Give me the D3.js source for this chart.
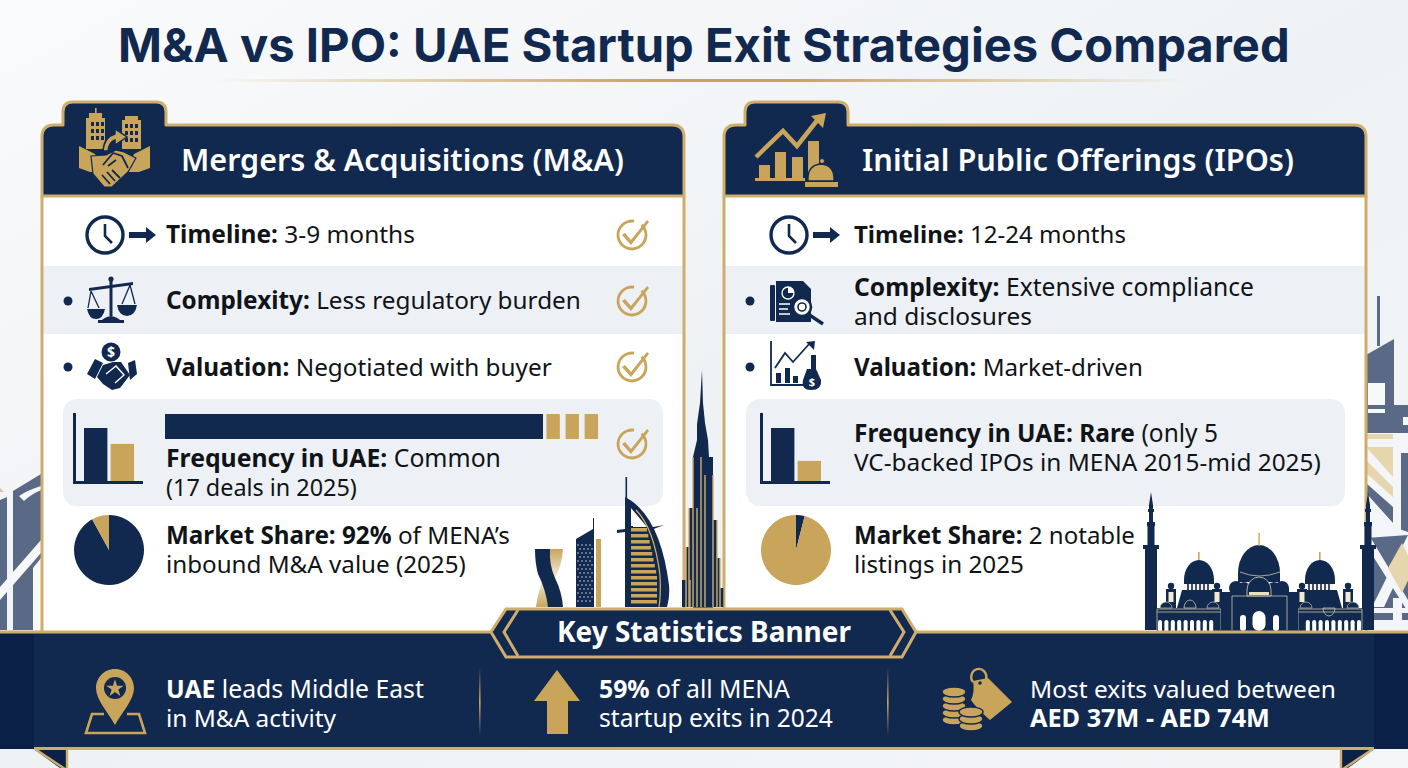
<!DOCTYPE html>
<html><head><meta charset="utf-8">
<script src="https://cdn.jsdelivr.net/npm/d3@7"></script>
<style>html,body{margin:0;padding:0;background:#f4f6f8;overflow:hidden}svg{display:block}text{white-space:pre}</style>
</head><body><svg id="c" width="1408" height="768" viewBox="0 0 1408 768"></svg>
<script>
// ---------- content ----------
const chartTitle = "M&A vs IPO: UAE Startup Exit Strategies Compared";
const headers = ["Mergers & Acquisitions (M&A)", "Initial Public Offerings (IPOs)"];
const bannerTitle = "Key Statistics Banner";
const maLines = [
  [["Timeline:",1],[" 3-9 months",0]],
  [["Complexity:",1],[" Less regulatory burden",0]],
  [["Valuation:",1],[" Negotiated with buyer",0]],
  [["Frequency in UAE:",1],[" Common",0]],
  [["(17 deals in 2025)",0]],
  [["Market Share: 92%",1],[" of MENA\u2019s",0]],
  [["inbound M&A value (2025)",0]]
];
const ipoLines = [
  [["Timeline:",1],[" 12-24 months",0]],
  [["Complexity:",1],[" Extensive compliance",0]],
  [["and disclosures",0]],
  [["Valuation:",1],[" Market-driven",0]],
  [["Frequency in UAE: Rare",1],[" (only 5",0]],
  [["VC-backed IPOs in MENA 2015-mid 2025)",0]],
  [["Market Share:",1],[" 2 notable",0]],
  [["listings in 2025",0]]
];
const statLines = [
  [["UAE",1],[" leads Middle East",0]],
  [["in M&A activity",0]],
  [["59%",1],[" of all MENA",0]],
  [["startup exits in 2024",0]],
  [["Most exits valued between",0]],
  [["AED 37M - AED 74M",1]]
];
// ---------- values ----------
const barCategories = ["M&A", "IPO"];
const maMiniBars = [100, 70];
const ipoMiniBars = [100, 38];
const maShare = [92, 8];
const ipoShare = [4, 96];
const freqMain = 87.3;
const freqBlocks = ["a", "b", "c"];

// ---------- palette / layout ----------
const NAVY="#12294f", GOLD="#c9a55c", GOLDL="#cfae6c", INK="#101418", STRIPE="#edf1f6", SLATE="#5a6a86", SAND="#e6d6ae", PALE="#f4f5f8";
const svg=d3.select("#c");
const defs=svg.append("defs");
const bg=defs.append("linearGradient").attr("id","bg").attr("x1",0).attr("y1",0).attr("x2",1).attr("y2",1);
bg.append("stop").attr("offset",0).attr("stop-color","#f9fafb");
bg.append("stop").attr("offset",.5).attr("stop-color","#eff2f5");
bg.append("stop").attr("offset",1).attr("stop-color","#f3f5f7");
const rule=defs.append("linearGradient").attr("id","rule");
[[0,0],[.45,1],[.6,1],[1,0]].forEach(([o,a])=>rule.append("stop").attr("offset",o).attr("stop-color",GOLD).attr("stop-opacity",a));
const vr=defs.append("linearGradient").attr("id","vr").attr("x1",0).attr("x2",0).attr("y1",0).attr("y2",1);
[[0,0],[.5,1],[1,0]].forEach(([o,a])=>vr.append("stop").attr("offset",o).attr("stop-color",GOLD).attr("stop-opacity",a));
const tw=defs.append("linearGradient").attr("id","tw").attr("x1",0).attr("x2",0).attr("y1",0).attr("y2",1);
[[0,GOLD],[.5,"#f3eee0"],[1,GOLD]].forEach(([o,c])=>tw.append("stop").attr("offset",o).attr("stop-color",c));

const P=(g,d,fill,extra={})=>{const p=g.append("path").attr("d",d).attr("fill",fill);for(const k in extra)p.attr(k,extra[k]);return p;};
const R=(g,x,y,w,h,fill,rx=0)=>g.append("rect").attr("x",x).attr("y",y).attr("width",w).attr("height",h).attr("fill",fill).attr("rx",rx);
const C=(g,x,y,r,fill,extra={})=>{const c=g.append("circle").attr("cx",x).attr("cy",y).attr("r",r).attr("fill",fill);for(const k in extra)c.attr(k,extra[k]);return c;};

R(svg,0,0,1408,768,"url(#bg)");

// rich text fitted to a measured width: one text element per run
function rich(g,segs,x,y,x2,opt={}){
  const base=opt.size||25;
  const ts=segs.map(([s,b])=>g.append("text").attr("y",y).attr("fill",opt.fill||INK)
    .attr("font-family",opt.font||"'Noto Sans',sans-serif").attr("font-size",base)
    .attr("font-weight",b?(opt.bold||700):(opt.reg||400)).text(s));
  const lens=ts.map(t=>t.node().getComputedTextLength());
  const k=(x2-x)/d3.sum(lens);
  let cx=x;
  ts.forEach((t,i)=>{t.attr("x",cx).attr("font-size",base*k);cx+=lens[i]*k;});
}

// ---------- background decor ----------
const decor=svg.append("g");
// left
P(decor,"M0 500L7 497V630H0Z",SLATE);
P(decor,"M13 491L41 474V630H13Z",SLATE);
P(decor,"M0 587L41 540V553L0 600Z","#f5f7f9");
P(decor,"M33 630V568L41 558V630Z","#f7f8fa");
P(decor,"M19 496Q28 490 41 486V490Q30 495 24 501Z","#f7f8fa");
P(decor,"M0 488L4 492H0Z",GOLD,{opacity:.6});
// right
const rd=decor.append("g");
R(rd,1377,296,3,50,SLATE);
P(rd,"M1366 355L1394 339V405H1408V433H1366Z",SLATE);
R(rd,1368,383,17,22,"#f7f8fa");
R(rd,1368,409,17,4,"#f7f8fa");
R(rd,1403,417,5,8,"#f7f8fa");
R(rd,1366,433,42,100,PALE);
R(rd,1366,434,27,5,SAND);
P(rd,"M1366 447H1393V477Z",SAND);
P(rd,"M1366 460L1393 487V497L1366 473Z",SAND);
P(rd,"M1366 483L1393 507V523L1366 493Z",SLATE);
R(rd,1401,453,7,80,SLATE);
P(rd,"M1366 530H1408V630H1366Z",SLATE);
P(rd,"M1366 524L1393 527L1408 532V535L1366 538Z",PALE);
P(rd,"M1366 530L1408 600V612L1366 545Z",PALE);
P(rd,"M1408 535L1372 607H1384L1408 556Z",PALE);
P(rd,"M1402 543L1414 568L1402 593L1388 568Z",SAND);
R(rd,1366,608,42,5,PALE);
R(rd,1366,620,42,10,PALE);
R(rd,1393,598,9,32,PALE);

// ---------- title ----------
rich(svg,[[chartTitle,1]],118,62,1290,{fill:NAVY,font:"Inter,sans-serif",size:45,bold:700});
R(svg,215,79,975,3,"url(#rule)");

// ---------- cards ----------
function card(x0,tabX,tabW){
  const g=svg.append("g");
  const x1=x0+642, top=125, tabT=102, hb=196, bot=632;
  R(g,x0,hb,642,bot-hb,"#fff");
  R(g,x0,266,642,68,STRIPE);
  const outline=`M${x0} ${hb}V${top+12}Q${x0} ${top} ${x0+12} ${top}H${tabX}V${tabT+10}Q${tabX} ${tabT} ${tabX+10} ${tabT}H${tabX+tabW-10}Q${tabX+tabW} ${tabT} ${tabX+tabW} ${tabT+10}V${top}H${x1-12}Q${x1} ${top} ${x1} ${top+12}V${hb}Z`;
  P(g,outline,NAVY,{stroke:GOLDL,"stroke-width":3,"stroke-linejoin":"round"});
  R(g,x0-1.5,196,3,bot-196,GOLDL);
  R(g,x1-1.5,196,3,bot-196,GOLDL);
  return g;
}
const cardA=card(42,63,103), cardB=card(724,745,103);
rich(cardA,[[headers[0],1]],181,171,624,{fill:"#fff",bold:600});
rich(cardB,[[headers[1],1]],862,171,1294,{fill:"#fff",bold:600});

// panels
R(cardA,63,399,600,107,STRIPE,14);
R(cardB,746,399,599,107,STRIPE,14);

// text rows
const maPos=[[243,415],[309,581],[376,552],[467,501],[496,357],[544,510],[573,466]];
maLines.forEach((l,i)=>rich(cardA,l,166,maPos[i][0],maPos[i][1]));
const ipoPos=[[243,1126],[296,1254],[325,1032],[376,1143],[442,1218],[471,1321],[544,1135],[573,1024]];
ipoLines.forEach((l,i)=>rich(cardB,l,854,ipoPos[i][0],ipoPos[i][1]));

// check marks
function check(cx,cy){
  const g=svg.append("g").attr("transform",`translate(${cx},${cy})`);
  g.append("path").attr("d",d3.arc()({innerRadius:12.6,outerRadius:15.4,startAngle:.75,endAngle:Math.PI*2+.15})).attr("fill",GOLD);
  P(g,"M-7 -2L-1 5L15 -15L17 -13L-1 10L-10 0Z",GOLD);
}
[[632,235],[632,301],[632,367],[632,444]].forEach(a=>check(...a));

// bullets
[[68,301],[68,367],[750,301],[750,367]].forEach(([x,y])=>C(svg,x,y,4.5,NAVY));

// clock + arrow
function clock(cx,ay){
  const g=svg.append("g");
  C(g,cx,ay,18,"#fff",{stroke:NAVY,"stroke-width":3.4});
  P(g,`M${cx} ${ay-11}V${ay+1}L${cx+7} ${ay+8}`,"none",{stroke:NAVY,"stroke-width":2.6});
  R(g,cx+24,ay-3,19,6,NAVY);
  P(g,`M${cx+41} ${ay-8}L${cx+51} ${ay}L${cx+41} ${ay+8}Z`,NAVY);
}
clock(105,235); clock(789,235);

// scale icon
(function(){
  const g=svg.append("g");
  C(g,111,279,2.6,NAVY);
  R(g,109.5,280,3,36,NAVY);
  P(g,"M89 288L133 282L133 285L89 291Z",NAVY);
  P(g,"M91 291L88 308M91 291L99 308M130 285L122 304M130 285L135 304","none",{stroke:NAVY,"stroke-width":1.3});
  P(g,"M87 309H105Q103 319 96 319Q89 319 87 309Z",NAVY);
  P(g,"M117 305H137Q135 316 127 316Q119 316 117 305Z",NAVY);
  P(g,"M100 322Q104 317 111 316Q118 317 122 322Z",NAVY);
  R(g,98,320,26,3,NAVY);
})();

// small handshake + coin
(function(){
  const g=svg.append("g");
  C(g,111,352,9.5,NAVY);
  g.append("text").attr("x",111).attr("y",357).attr("text-anchor","middle").attr("fill","#fff").attr("font-family","'Noto Sans'").attr("font-weight",700).attr("font-size",14).text("$");
  P(g,"M87 374L95 359L103 363L95 379Z",NAVY);
  P(g,"M128 363L135 360L137 374L130 380Z",NAVY);
  P(g,"M97 377L103 365L113 362L121 362L130 375L120 388L112 390L103 384Z",NAVY);
  P(g,"M106 374L116 366L124 375L115 383","none",{stroke:"#fff","stroke-width":1.4});
})();

// document + magnifier
(function(){
  const g=svg.append("g");
  R(g,770,285,5,36,NAVY,1);
  P(g,"M776 281H803L811 289V322H776Z",NAVY);
  C(g,788,293,6,"none",{stroke:"#fff","stroke-width":1.3});
  P(g,"M788 293V287A6 6 0 0 1 794 293Z","#fff");
  P(g,"M779 304H790M779 309H788M779 314H790","none",{stroke:"#fff","stroke-width":1.4});
  C(g,802,307,9,"#fff",{stroke:NAVY,"stroke-width":2.6});
  C(g,802,307,4,"none",{stroke:NAVY,"stroke-width":1.6});
  P(g,"M808 314L823 324","none",{stroke:NAVY,"stroke-width":3.4});
})();

// valuation chart icon
(function(){
  const g=svg.append("g");
  P(g,"M771 341V385H805","none",{stroke:NAVY,"stroke-width":1.8});
  P(g,"M775 368L785 353L793 362L810 343","none",{stroke:NAVY,"stroke-width":1.8});
  P(g,"M806 342L815 341L814 350Z",NAVY);
  [[776,373,5,10],[785,368,5,15],[793,376,5,7],[811,355,5,14]].forEach(a=>R(g,a[0],a[1],a[2],a[3],NAVY));
  P(g,"M807 369H816L821 380Q822 390 811 390Q801 390 803 380Z",NAVY);
  g.append("text").attr("x",812).attr("y",386).attr("text-anchor","middle").attr("fill","#fff").attr("font-family","'Noto Sans'").attr("font-weight",700).attr("font-size",11).text("$");
})();

// ---------- mini bar charts (data driven) ----------
function miniBars(vals,x0,x1,yTop,yBase,barLeft,barRight){
  const g=svg.append("g");
  const x=d3.scaleBand().domain(barCategories).range([barLeft,barRight]).paddingInner(.12);
  const y=d3.scaleLinear().domain([0,100]).range([yBase,yTop+15]);
  g.selectAll("rect.b").data(vals).join("rect").attr("class","b")
    .attr("x",(d,i)=>x(barCategories[i])).attr("width",x.bandwidth())
    .attr("y",d=>y(d)).attr("height",d=>yBase-y(d)).attr("fill",(d,i)=>i?GOLD:NAVY);
  R(g,x0,yTop,3,yBase-yTop+3,NAVY);
  R(g,x0,yBase,x1-x0,3,NAVY);
}
miniBars(maMiniBars,73,143,413,481,84,134);
miniBars(ipoMiniBars,760,830,413,481,771,821);

// frequency bar (data driven)
(function(){
  const x=d3.scaleLinear().domain([0,100]).range([165,598]);
  const g=svg.append("g");
  g.append("rect").attr("x",x(0)).attr("y",414).attr("width",x(freqMain)-x(0)).attr("height",25).attr("fill",NAVY);
  const b=d3.scaleBand().domain(freqBlocks).range([x(freqMain+.8),x(100)]).paddingInner(.3);
  g.selectAll("rect.fb").data(freqBlocks).join("rect").attr("class","fb").attr("x",d=>b(d)).attr("y",414).attr("width",b.bandwidth()).attr("height",25).attr("fill",GOLD);
})();

// pies (data driven)
function pie(vals,cx,cy,colors){
  const g=svg.append("g").attr("transform",`translate(${cx},${cy})`);
  const arcs=d3.pie().sort(null)(vals);
  const a=d3.arc().innerRadius(0).outerRadius(35);
  g.selectAll("path").data(arcs).join("path").attr("d",a).attr("fill",(d,i)=>colors[i]);
}
pie(maShare,109,550,[NAVY,GOLD]);
pie(ipoShare,796,550,[NAVY,GOLD]);

// ---------- skyline: Dubai ----------
(function(){
  const g=svg.append("g");
  // twisted tower
  P(g,"M549 549H563Q562 565 555 579Q549 592 548 607H536Q538 590 545 575Q550 565 549 549Z","url(#tw)");
  P(g,"M535 549H550Q549 565 555 578Q562 592 563 607H548Q546 590 538 574Q535 563 535 549Z",NAVY);
  // perforated tower
  P(g,"M576 539L593 529V518H594V607H576Z",NAVY);
  R(g,596,539,5,68,GOLD);
  const dots=g.append("g").attr("fill","#c9d2df");
  d3.range(545,604,4).forEach((yy,j)=>d3.range(578+(j%2)*2,593,4).forEach(xx=>dots.append("circle").attr("cx",xx).attr("cy",yy).attr("r",.8)));
  // Burj Al Arab
  R(g,625.5,477,1.6,25,NAVY);
  P(g,"M625 497Q660 515 669 585Q670 597 667 607H625Z",NAVY);
  P(g,"M631 508L647 527H631Z","#fff");
  P(g,"M617 530L625 529V526H633V531L617 533Z",NAVY);
  P(g,"M648 528L664 525L651 530Z",NAVY);
  d3.range(528,606,6).forEach((yy,i)=>R(g,631,yy,Math.min(26,16+i*1.3),3.5,GOLD));
  P(g,"M636 510Q654 528 660 575Q661 595 659 607","none",{stroke:GOLDL,"stroke-width":1.2});
  // Burj Khalifa
  P(g,"M702 370L703 403L705 423L708 440L709 457H713V630H693V457L697 440V424L700 403Z",NAVY);
  [[682,580,7],[686,547,7],[689,508,8],[693,457,8],[705,475,8],[709,520,8],[713,558,7],[717,588,7]].forEach(([x,y,w])=>R(g,x,y,w,607-y,NAVY));
  [[686,547],[689,508],[693,457],[701,457],[705,475],[713,475],[717,520],[720,558],[724,588],[690,580],[697,508]].forEach(([x,y])=>R(g,x-.7,y,1.4,607-y,GOLDL));
})();

// ---------- skyline: mosque ----------
(function(){
  const g=svg.append("g");
  function minaret(c){
    P(g,`M${c} 492L${c+2} 505V509H${c+3}V512H${c+2}V522H${c+4}V526H${c+3.5}V545H${c+8}V549H${c+6}V630H${c-6}V549H${c-8}V545H${c-3.5}V526H${c-4}V522H${c-2}V512H${c-3}V509H${c-2}V505Z`,NAVY);
  }
  minaret(1151); minaret(1368);
  const line=(d)=>P(g,d,"none",{stroke:"#c9c3a8","stroke-width":.8});
  R(g,1157,608,205,23,NAVY);
  // side sections (s mirrors the right wing)
  [[1199,1],[1320,-1]].forEach(([c,s])=>{
    const xo=d=>c+s*d;
    R(g,c-1,552,1.6,9,GOLD);
    P(g,`M${c-15} 580A15 20 0 1 1 ${c+15} 580Z`,NAVY);
    R(g,c-13,584,26,6,"#f7f3e6");
    d3.range(-11,13,4).forEach(d=>R(g,c+d-.8,584,1.6,6,NAVY));
    R(g,c-15,580,30,4,NAVY);
    P(g,`M${xo(-22)} 608L${xo(-17)} 590H${xo(14)}L${xo(17)} 608Z`,NAVY);
    [-28,18].forEach(d=>{R(g,xo(d)-5,589,10,19,NAVY);C(g,xo(d),586,3.2,NAVY);R(g,xo(d)-2.5,592,5,10,"#f2ead2");});
    [-33,14].forEach(d=>{P(g,`M${xo(d)-6} 608A6 6 0 0 1 ${xo(d)+6} 608Z`,NAVY,{stroke:"#c9c3a8","stroke-width":.7});});
    P(g,`M${xo(-15)} 608A6 8 0 0 1 ${xo(-3)} 608Z`,NAVY,{stroke:"#c9c3a8","stroke-width":.8});
    line(`M${xo(-42)} 609H${xo(22)}V630`);
    line(`M${xo(-42)} 612H${xo(22)}`);
    line(`M${xo(-42)} 609V630`);
    d3.range(9).forEach(i=>{const wx=xo(-39+i*6.4);R(g,wx-2,622,4,9,"#fff");C(g,wx,622,2,"#fff");});
  });
  // centre
  R(g,1221,592,11,39,NAVY);R(g,1287,592,11,39,NAVY);
  P(g,"M1238 573A21 28 0 1 1 1280 573V582H1238Z",NAVY);
  R(g,1258.4,533,1.4,13,GOLD);
  C(g,1236,588,7,NAVY);C(g,1244,588,6,NAVY);C(g,1274,588,6,NAVY);C(g,1282,588,7,NAVY);
  R(g,1230,588,59,22,NAVY);
  P(g,"M1247 590A12 13 0 0 1 1271 590V596H1247Z",NAVY,{stroke:"#d8d0b0","stroke-width":.8});
  R(g,1249,592,20,3,"#e9e0c8");
  line("M1240 572Q1259 580 1280 572");
  line("M1232 596H1287M1232 596V630M1287 596V630");
  R(g,1252.5,611,13,20,"#fff",6.5);
  R(g,1240,615,6,16,"#fff",3);
  R(g,1273,615,6,16,"#fff",3);
})();

// ---------- banner ----------
(function(){
  const g=svg.append("g");
  R(g,0,632,1408,117,"#0b2046");
  R(g,34,632,1340,117,NAVY);
  R(g,0,630.5,1408,3,GOLDL);
  R(g,34,747,1340,3,GOLDL);
  // fold corners
  P(g,"M35 750H67V768H60Z","#0b2046");
  P(g,"M35 749L65 769M67 749V768","none",{stroke:GOLDL,"stroke-width":2.4});
  P(g,"M1373 750H1341V768H1348Z","#0b2046");
  P(g,"M1373 749L1343 769M1341 749V768","none",{stroke:GOLDL,"stroke-width":2.4});
  // ribbon
  P(g,"M506 609H902L916 632L902 657H506L491 632Z",NAVY,{stroke:GOLDL,"stroke-width":3,"stroke-linejoin":"miter"});
  P(g,"M518 610L504 632L518 656M890 610L904 632L890 656","none",{stroke:GOLDL,"stroke-width":3});
  rich(g,[[bannerTitle,1]],557,642,851,{fill:"#fff",bold:700});
  // dividers
  R(g,479,668,1.6,68,"url(#vr)");
  R(g,887,668,1.6,68,"url(#vr)");
  // pin
  P(g,"M115 669C103 669 96 679 96 688C96 700 108 712 115 725C122 712 134 700 134 688C134 679 127 669 115 669Z",GOLD);
  C(g,115,688,11,NAVY);
  g.append("path").attr("transform","translate(115,688.5)").attr("d",d3.symbol().type(d3.symbolStar).size(95)()).attr("fill",GOLD);
  P(g,"M104 714H92L86 733H145L139 714H127","none",{stroke:GOLD,"stroke-width":2.6});
  // arrow
  P(g,"M557 670L580 701H568V734H547V701H534Z",GOLD);
  // coins + tag
  P(g,"M973 681L988 678L1012 702L990 720Q976 708 971 700Q975 692 973 681Z",GOLD);
  P(g,"M973 682A7.5 8 0 1 1 986 679","none",{stroke:GOLD,"stroke-width":2.4});
  C(g,980,683,1.8,NAVY);
  const coin=(cx,cy,n)=>{d3.range(n-1,-1,-1).forEach(i=>{
    g.append("ellipse").attr("cx",cx).attr("cy",cy+i*7).attr("rx",12).attr("ry",5).attr("fill",GOLD).attr("stroke",NAVY).attr("stroke-width",1.4);
  });};
  coin(954,692,5);
  coin(971,712,3);
  // stats
  const pos=[[166,698,424],[166,727,336],[599,698,790],[599,727,833],[1030,698,1336],[1030,727,1270]];
  statLines.forEach((l,i)=>rich(g,l,pos[i][0],pos[i][1],pos[i][2],{fill:"#fff"}));
})();

// ---------- header icons ----------
(function(){
  const g=svg.append("g");
  // buildings
  R(g,86,118,19,31,GOLD); R(g,95,108,1.6,10,GOLD); R(g,89,113,13,5,GOLD);
  R(g,122,120,19,29,GOLD); R(g,125,116,13,4,GOLD);
  [[89,122],[122,124]].forEach(([bx,by])=>{
    d3.range(3).forEach(r=>d3.range(3).forEach(c=>R(g,bx+2+c*5+(bx===122?1:0),by+r*7,3,4,NAVY)));
  });
  P(g,"M103 151Q104 137 115 134V129L127 137L115 145V140Q109 142 108 151Z",GOLD,{stroke:NAVY,"stroke-width":1.5});
  // cuffs
  P(g,"M79 146L95 154L103 172L90 172L79 168Z",GOLD);
  P(g,"M150 146L134 154L126 172L139 172L150 168Z",GOLD);
  // hands
  P(g,"M91 156L106 155L116 150L124 152L136 158L128 172L112 187L104 187L93 174Z",GOLD,{stroke:NAVY,"stroke-width":1.2});
  P(g,"M103 165L113 153L122 156L128 168M108 166L116 160M102 175L110 184M107 172L115 181M112 170L120 178","none",{stroke:NAVY,"stroke-width":1.8});

  // IPO icon
  const h=svg.append("g");
  P(h,"M756 157L783 131L797 146L819 118","none",{stroke:GOLD,"stroke-width":4.5});
  P(h,"M811 116L826 113L823 128Z",GOLD);
  [[759,165,11,13],[775,152,11,26],[792,157,11,21],[808,141,11,37]].forEach(a=>R(h,a[0],a[1],a[2],a[3],GOLD));
  R(h,755,178,50,3,GOLD);
  C(h,822,161,2.5,GOLD,{stroke:NAVY,"stroke-width":1});
  P(h,"M808 181Q807 165 821 164Q835 165 834 181Z",GOLD,{stroke:NAVY,"stroke-width":1.4});
  R(h,805,182,33,5,GOLD);
})();
</script></body></html>
